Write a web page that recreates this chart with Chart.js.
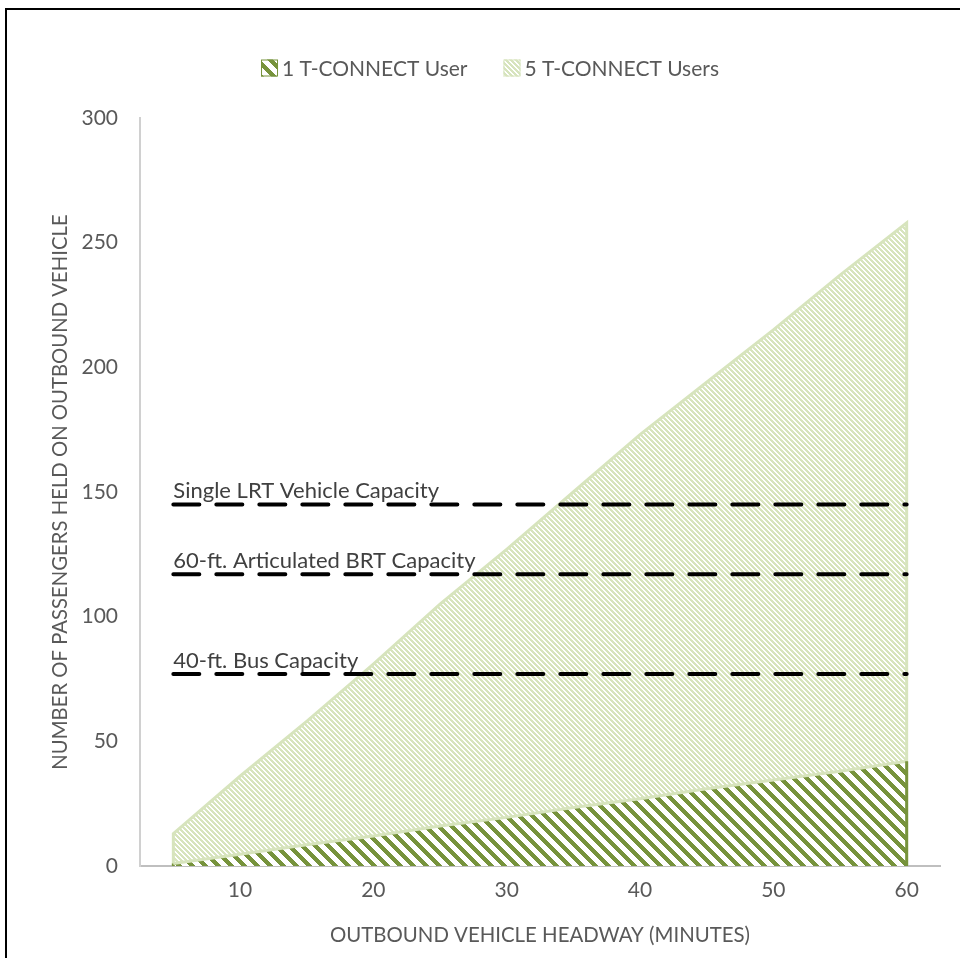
<!DOCTYPE html>
<html>
<head>
<meta charset="utf-8">
<script src="https://cdn.jsdelivr.net/npm/chart.js@4/dist/chart.umd.min.js"></script>
<style>
    html, body { margin: 0; padding: 0; background: #fff; }
    #wrap { position: relative; width: 960px; height: 958px; overflow: hidden; }
    #frame {
        position: absolute; left: 5px; top: 8px; width: 1000px; height: 1000px;
        border-top: 2px solid #000; border-left: 2px solid #000; pointer-events: none;
    }
</style>
</head>
<body>
<div id="wrap">
    <canvas id="chart" width="960" height="958"></canvas>
    <div id="frame"></div>
</div>
<script>
// ── Data ──
const HEADWAY = [5, 10, 15, 20, 25, 30, 35, 40, 45, 50, 55, 60];
const ONE_USER = [1, 4.7, 8.5, 12, 16, 19.5, 23.5, 27, 31, 34.5, 38, 42];
const FIVE_USERS = [13, 36, 58, 81, 105, 127, 150, 173, 194, 215, 237, 258];
const X_TICKS = [10, 20, 30, 40, 50, 60];
const CAPACITY_LABELS = ["Single LRT Vehicle Capacity", "60-ft. Articulated BRT Capacity", "40-ft. Bus Capacity"];
const CAPACITY_VALUES = [145, 117, 77];

const DARK = "#77933C";
const LIGHT = "#D7E4BD";
const FONT = "Lato, 'Open Sans', sans-serif";

// diagonal hatch, stripes running top-left to bottom-right
function hatch(size, width, color) {
    const c = document.createElement("canvas");
    c.width = size; c.height = size;
    const g = c.getContext("2d");
    g.fillStyle = "#fff";
    g.fillRect(0, 0, size, size);
    g.fillStyle = color;
    for (let y = 0; y < size; y++) {
        for (let x = 0; x < size; x++) {
            if ((((x - y) % size) + size) % size < width) g.fillRect(x, y, 1, 1);
        }
    }
    return g.createPattern(c, "repeat");
}

// closed outline: drop to zero at both ends so the border draws the sides
function areaPoints(values) {
    const pts = HEADWAY.map((h, i) => ({ x: h, y: values[i] }));
    return [{ x: HEADWAY[0], y: 0 }, ...pts, { x: HEADWAY[HEADWAY.length - 1], y: 0 }];
}

const lastSeg = HEADWAY.length;

const capacitySets = CAPACITY_VALUES.map((v, i) => ({
    label: CAPACITY_LABELS[i],
    data: [{ x: HEADWAY[0], y: v }, { x: HEADWAY[HEADWAY.length - 1], y: v }],
    borderColor: "#000",
    borderWidth: 4,
    borderDash: [26, 17],
    borderCapStyle: "round",
    pointRadius: 0,
    fill: false,
    order: 0,
    isCapacity: true,
}));

// labels above the capacity lines
const capacityLabels = {
    id: "capacityLabels",
    afterDatasetsDraw(chart) {
        const { ctx, scales: { x, y } } = chart;
        ctx.save();
        ctx.font = `22px ${FONT}`;
        ctx.fillStyle = "#404040";
        ctx.textBaseline = "alphabetic";
        ctx.textAlign = "left";
        CAPACITY_VALUES.forEach((v, i) => {
            ctx.fillText(CAPACITY_LABELS[i], x.getPixelForValue(HEADWAY[0]), y.getPixelForValue(v) - 6);
        });
        ctx.restore();
    },
};

// Excel-like legend: small box, tight gap, text
const topLegend = {
    id: "topLegend",
    afterDraw(chart) {
        const { ctx } = chart;
        const items = chart.data.datasets.filter((d) => !d.isCapacity);
        const box = 17, gap = 4, between = 36;
        ctx.save();
        ctx.font = `21px ${FONT}`;
        const widths = items.map((d) => box + gap + ctx.measureText(d.label).width);
        const total = widths.reduce((a, b) => a + b, 0) + between * (items.length - 1);
        let x = chart.width / 2 + 10 - total / 2;
        const cy = 68;
        items.forEach((d, i) => {
            ctx.fillStyle = d.backgroundColor;
            ctx.fillRect(x, cy - box / 2, box, box);
            ctx.strokeStyle = d.borderColor;
            ctx.lineWidth = 1;
            ctx.strokeRect(x + 0.5, cy - box / 2 + 0.5, box - 1, box - 1);
            ctx.fillStyle = "#595959";
            ctx.textBaseline = "middle";
            ctx.textAlign = "left";
            ctx.fillText(d.label, x + box + gap, cy + 1);
            x += widths[i] + between;
        });
        ctx.restore();
    },
};

const ctx = document.getElementById("chart").getContext("2d");

new Chart(ctx, {
    type: "line",
    data: {
        datasets: [
            ...capacitySets,
            {
                label: "1 T-CONNECT User",
                data: areaPoints(ONE_USER),
                backgroundColor: hatch(13, 6, DARK),
                borderColor: DARK,
                borderWidth: 3,
                segment: {
                    borderColor: (s) => (s.p0DataIndex === 0 || s.p1DataIndex === lastSeg + 1 ? DARK : LIGHT),
                },
                pointRadius: 0,
                tension: 0,
                fill: "origin",
                order: 1,
            },
            {
                label: "5 T-CONNECT Users",
                data: areaPoints(FIVE_USERS),
                backgroundColor: hatch(5, 3, LIGHT),
                borderColor: LIGHT,
                borderWidth: 3,
                pointRadius: 0,
                tension: 0,
                fill: "origin",
                order: 2,
            },
        ],
    },
    options: {
        responsive: false,
        animation: false,
        layout: { padding: { top: 118, right: 20, left: 0, bottom: 0 } },
        plugins: {
            legend: { display: false },
            tooltip: { enabled: false },
        },
        scales: {
            x: {
                type: "linear",
                min: 2.5,
                max: 62.5,
                afterBuildTicks: (axis) => { axis.ticks = X_TICKS.map((v) => ({ value: v })); },
                afterFit: (axis) => { axis.height = 92; },
                grid: { display: false, drawTicks: false },
                border: { display: true, color: "#bfbfbf", width: 2 },
                ticks: { font: { family: FONT, size: 21 }, color: "#595959", padding: 12 },
                title: {
                    display: true,
                    text: "OUTBOUND VEHICLE HEADWAY (MINUTES)",
                    font: { family: FONT, size: 20.4 },
                    color: "#595959",
                    padding: { top: 0, bottom: 10 },
                },
            },
            y: {
                min: 0,
                max: 300,
                afterFit: (axis) => { axis.width = 140; },
                grid: { display: false, drawTicks: false },
                border: { display: true, color: "#d0d0d0", width: 2 },
                ticks: { stepSize: 50, font: { family: FONT, size: 21 }, color: "#595959", padding: 22 },
                title: {
                    display: true,
                    text: "NUMBER OF PASSENGERS HELD ON OUTBOUND VEHICLE",
                    font: { family: FONT, size: 20.3 },
                    color: "#595959",
                    padding: { top: 48, bottom: 0 },
                },
            },
        },
    },
    plugins: [capacityLabels, topLegend],
});
</script>
</body>
</html>
